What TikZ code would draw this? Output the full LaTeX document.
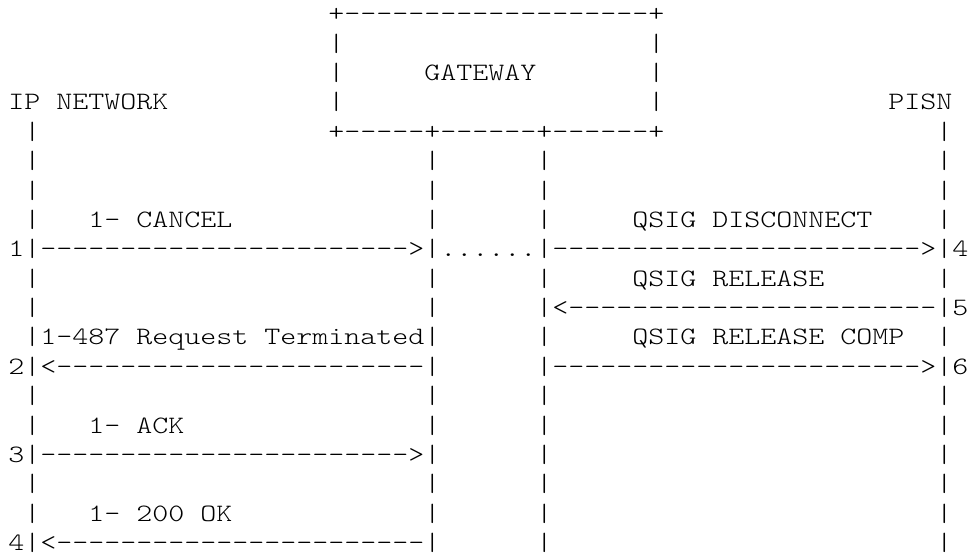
\documentclass[tikz,border=0pt]{standalone}
\usepackage{fontspec}
\setmonofont[FakeStretch=1.219]{lmmonolt10-regular.otf}
\newcommand\dten{-----{}-----}
\newcommand\dtw{\dten\dten---}
\tikzset{asc/.style={anchor=base west, inner sep=0pt, outer sep=0pt,
  font=\ttfamily\fontsize{25}{25}\selectfont}}
% #1 = row, #2 = column, #3 = text
\newcommand\tx[3]{\node[asc] (n#1-#2) at ({8.3+16*#2},{-(14.25+29.375*(#1-1))-7.6}) {#3};}
\newcommand\lanes[1]{\tx{#1}{1}{|}\tx{#1}{26}{|}\tx{#1}{33}{|}\tx{#1}{58}{|}}
\begin{document}
\begin{tikzpicture}[x=1pt,y=1pt]
\useasboundingbox[fill=white] (0,0) rectangle (970,-556);
% gateway box
\tx{1}{20}{+\dten---------+}
\tx{2}{20}{|}\tx{2}{40}{|}
\tx{3}{20}{|}\tx{3}{26}{GATEWAY}\tx{3}{40}{|}
\tx{4}{0}{IP NETWORK}\tx{4}{20}{|}\tx{4}{40}{|}\tx{4}{55}{PISN}
\tx{5}{1}{|}\tx{5}{20}{+-----+------+------+}\tx{5}{58}{|}
\lanes{6}
\lanes{7}
% row 8
\tx{8}{1}{|}\tx{8}{5}{1- CANCEL}\tx{8}{26}{|}\tx{8}{33}{|}\tx{8}{39}{QSIG DISCONNECT}\tx{8}{58}{|}
% row 9
\tx{9}{0}{1|\dtw>|}\tx{9}{27}{......}\tx{9}{33}{|\dtw>|4}
% row 10
\tx{10}{1}{|}\tx{10}{26}{|}\tx{10}{33}{|}\tx{10}{39}{QSIG RELEASE}\tx{10}{58}{|}
% row 11
\tx{11}{1}{|}\tx{11}{26}{|}\tx{11}{33}{|<\dtw|5}
% row 12
\tx{12}{1}{|1-487 Request Terminated|}\tx{12}{33}{|}\tx{12}{39}{QSIG RELEASE COMP}\tx{12}{58}{|}
% row 13
\tx{13}{0}{2|<\dtw|}\tx{13}{33}{|\dtw>|6}
\lanes{14}
\tx{15}{1}{|}\tx{15}{5}{1- ACK}\tx{15}{26}{|}\tx{15}{33}{|}\tx{15}{58}{|}
\tx{16}{0}{3|\dtw>|}\tx{16}{33}{|}\tx{16}{58}{|}
\lanes{17}
\tx{18}{1}{|}\tx{18}{5}{1- 200 OK}\tx{18}{26}{|}\tx{18}{33}{|}\tx{18}{58}{|}
\tx{19}{0}{4|<\dtw|}\tx{19}{33}{|}\tx{19}{58}{|}
\end{tikzpicture}
\end{document}
